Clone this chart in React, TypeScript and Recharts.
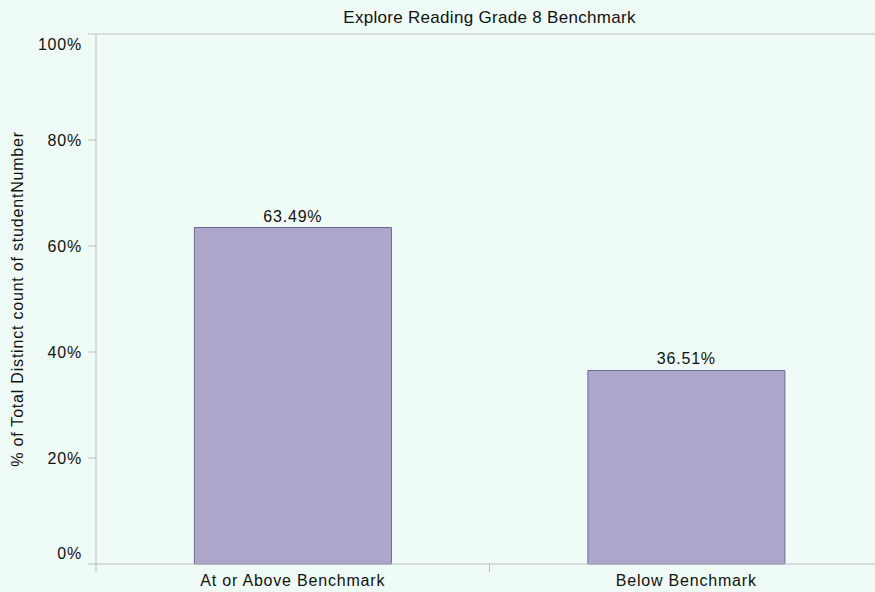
import {
  BarChart,
  Bar,
  XAxis,
  YAxis,
  LabelList,
  ReferenceLine,
} from "recharts";

const categories = ["At or Above Benchmark", "Below Benchmark"];
const percents = [63.49, 36.51];
const yTicks = [0, 20, 40, 60, 80, 100];
const title = "Explore Reading Grade 8 Benchmark";
const yLabel = "% of Total Distinct count of studentNumber";

const data = categories.map((name, i) => ({ name, pct: percents[i] }));

const AXIS = "#BDBDBD";
const FONT = "'Liberation Sans', Arial, sans-serif";
const textStyle = { fontFamily: FONT, fontSize: 16, letterSpacing: 0.8, fill: "#111" };

// category axis: label at the centre, tick mark at the left boundary of the band
const CategoryTick = (props: any) => {
  const { x, y, payload } = props;
  const off = payload?.offset ?? 0;
  return (
    <g>
      <line x1={x - off} y1={y - 8} x2={x - off} y2={y} stroke={AXIS} />
      <text x={x} y={y + 3} dy="0.71em" textAnchor="middle" style={textStyle}>
        {payload.value}
      </text>
    </g>
  );
};

// value axis labels are kept inside the plot: the top one moves down, the bottom one up
const PercentTick = (props: any) => {
  const { x, y, payload } = props;
  let shift = 0;
  if (payload.value === 100) shift = 10;
  if (payload.value === 0) shift = -11;
  return (
    <text x={x} y={y + shift} dy="0.355em" textAnchor="end" style={textStyle}>
      {`${payload.value}%`}
    </text>
  );
};

export default function App() {
  return (
    <div style={{ position: "absolute", left: 0, top: 0, width: 875, height: 592, overflow: "hidden", background: "#EFFBF7" }}>
      <BarChart
        width={883}
        height={592}
        data={data}
        margin={{ top: 34, right: 0, left: 0, bottom: 0 }}
        barCategoryGap="25%"
      >
        <XAxis
          dataKey="name"
          height={28}
          stroke={AXIS}
          tickLine={false}
          tick={<CategoryTick />}
          interval={0}
        />
        <YAxis
          width={96}
          domain={[0, 100]}
          ticks={yTicks}
          stroke={AXIS}
          tickSize={8}
          tickMargin={6}
          tick={<PercentTick />}
          label={{
            value: yLabel,
            angle: -90,
            position: "insideLeft",
            offset: 17,
            style: { ...textStyle, textAnchor: "middle" },
          }}
        />
        <ReferenceLine
          y={100}
          stroke={AXIS}
          label={{ value: title, position: "top", offset: 11, style: { ...textStyle, fontSize: 17, letterSpacing: 0.3 } }}
        />
        <Bar dataKey="pct" fill="#ADA7CB" stroke="#6B6790" strokeWidth={1} isAnimationActive={false}>
          <LabelList
            dataKey="pct"
            position="top"
            offset={6}
            formatter={(v: any) => `${Number(v).toFixed(2)}%`}
            style={textStyle}
          />
        </Bar>
      </BarChart>
    </div>
  );
}
